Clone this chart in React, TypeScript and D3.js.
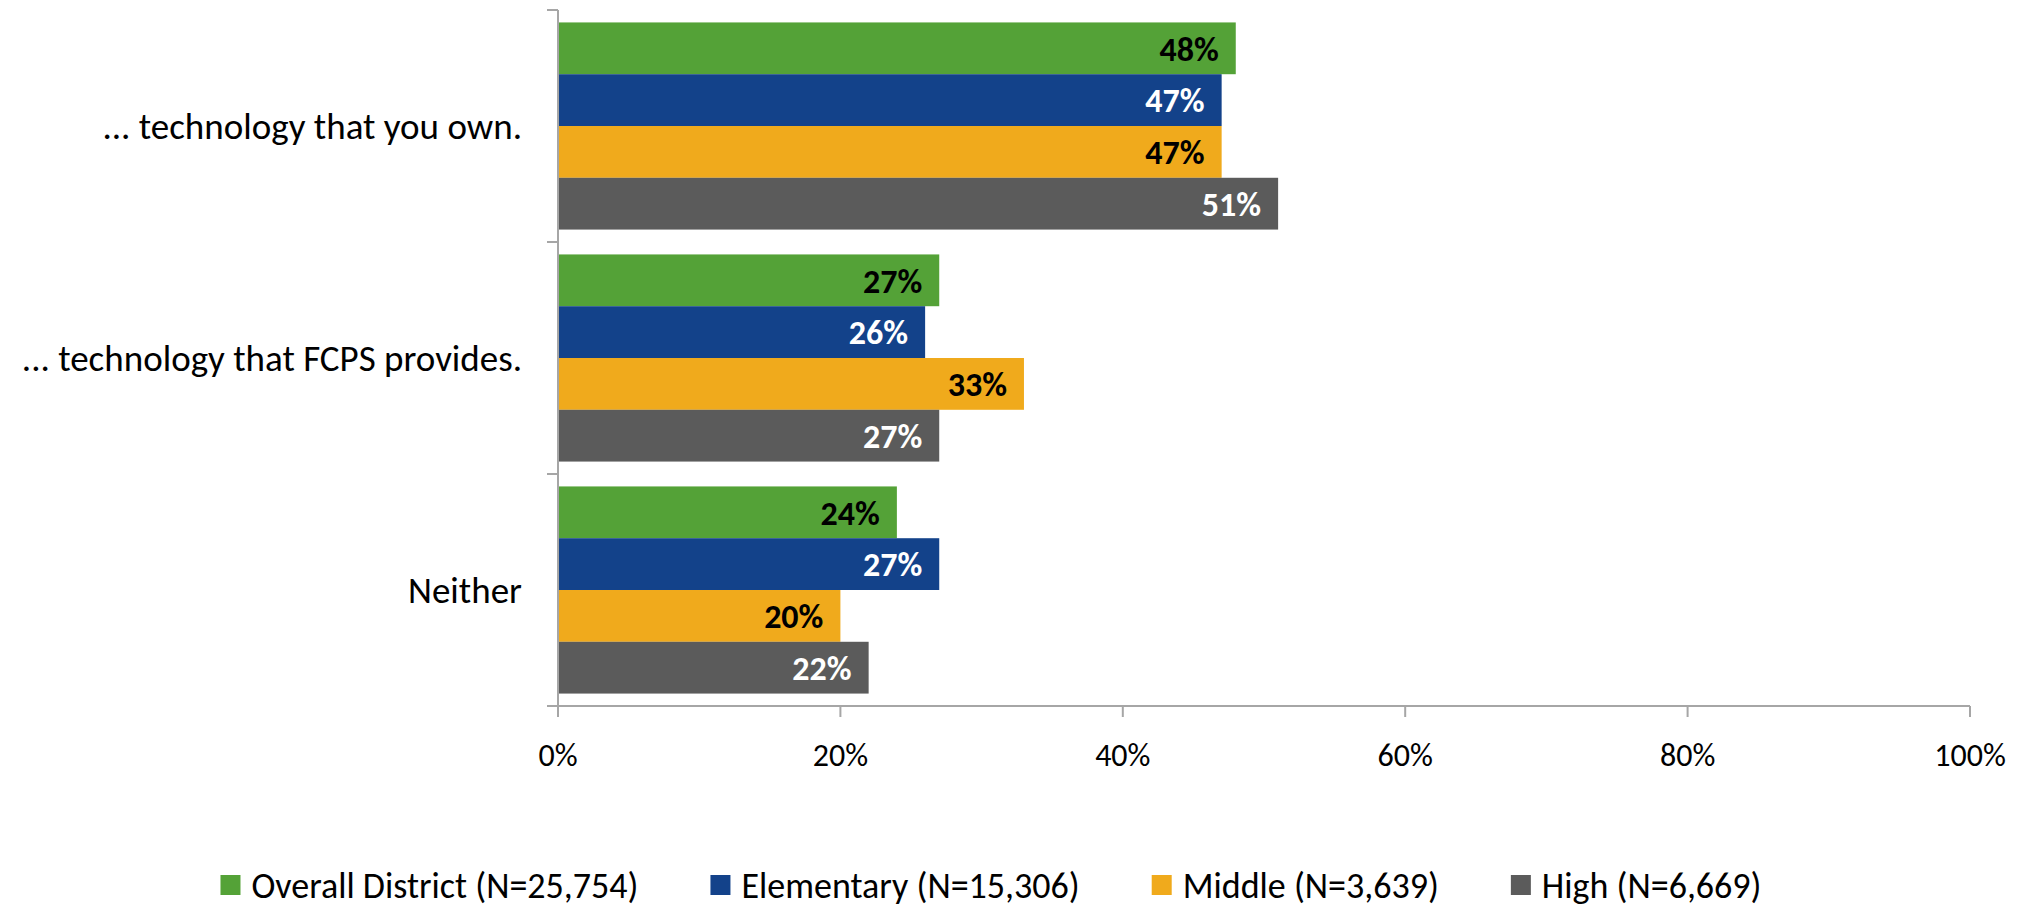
import React, { useEffect, useRef } from "react";
import * as d3 from "d3";

const categories = [
  "... technology that you own.",
  "... technology that FCPS provides.",
  "Neither",
];
const seriesNames = [
  "Overall District (N=25,754)",
  "Elementary (N=15,306)",
  "Middle (N=3,639)",
  "High (N=6,669)",
];
const overall = [48, 27, 24];
const elementary = [47, 26, 27];
const middle = [47, 33, 20];
const high = [51, 27, 22];
const xTicks = [0, 20, 40, 60, 80, 100];

const seriesValues = [overall, elementary, middle, high];
const colors = ["#54A237", "#13428A", "#F0AA1C", "#5B5B5B"];
const labelColors = ["#000000", "#FFFFFF", "#000000", "#FFFFFF"];

const W = 2030;
const H = 910;
const FONT = "Carlito, Calibri, Lato, sans-serif";

export default function App() {
  const ref = useRef<SVGSVGElement | null>(null);

  useEffect(() => {
    const svg = d3.select(ref.current);
    svg.selectAll("*").remove();

    const margin = { left: 558, right: 60, top: 10, bottom: 204 };
    const x = d3
      .scaleLinear()
      .domain([0, 100])
      .range([margin.left, W - margin.right]);
    const y = d3
      .scaleBand<number>()
      .domain(d3.range(categories.length))
      .range([margin.top, H - margin.bottom])
      .padding(0);
    const ys = d3
      .scaleBand<number>()
      .domain(d3.range(seriesNames.length))
      .range([0, y.bandwidth()])
      .paddingInner(0)
      .paddingOuter(0.24);

    const axisColor = "#A6A6A6";
    const plotBottom = H - margin.bottom;

    // bars
    const g = svg.append("g");
    categories.forEach((_, ci) => {
      seriesValues.forEach((vals, si) => {
        const v = vals[ci];
        const y0 = (y(ci) as number) + (ys(si) as number);
        g.append("rect")
          .attr("x", x(0))
          .attr("y", y0)
          .attr("width", x(v) - x(0))
          .attr("height", ys.bandwidth())
          .attr("fill", colors[si]);
        g.append("text")
          .attr("x", x(v) - 17)
          .attr("y", y0 + ys.bandwidth() / 2)
          .attr("dy", "0.36em")
          .attr("text-anchor", "end")
          .attr("font-family", FONT)
          .attr("font-weight", "bold")
          .attr("font-size", 34)
          .attr("fill", labelColors[si])
          .text(`${v}%`);
      });
    });

    // y axis
    svg
      .append("line")
      .attr("x1", x(0))
      .attr("x2", x(0))
      .attr("y1", margin.top)
      .attr("y2", plotBottom)
      .attr("stroke", axisColor)
      .attr("stroke-width", 2);
    const bounds = d3.range(categories.length + 1).map((i) =>
      i < categories.length ? (y(i) as number) : plotBottom
    );
    bounds.forEach((b) => {
      svg
        .append("line")
        .attr("x1", x(0) - 11)
        .attr("x2", x(0))
        .attr("y1", b)
        .attr("y2", b)
        .attr("stroke", axisColor)
        .attr("stroke-width", 2);
    });
    categories.forEach((c, ci) => {
      svg
        .append("text")
        .attr("x", x(0) - 36)
        .attr("y", (y(ci) as number) + y.bandwidth() / 2)
        .attr("dy", "0.36em")
        .attr("text-anchor", "end")
        .attr("font-family", FONT)
        .attr("font-size", 37)
        .attr("fill", "#000")
        .text(c);
    });

    // x axis
    svg
      .append("line")
      .attr("x1", x(0) - 11)
      .attr("x2", x(100))
      .attr("y1", plotBottom)
      .attr("y2", plotBottom)
      .attr("stroke", axisColor)
      .attr("stroke-width", 2);
    xTicks.forEach((t) => {
      svg
        .append("line")
        .attr("x1", x(t))
        .attr("x2", x(t))
        .attr("y1", plotBottom)
        .attr("y2", plotBottom + 11)
        .attr("stroke", axisColor)
        .attr("stroke-width", 2);
      svg
        .append("text")
        .attr("x", x(t))
        .attr("y", 754)
        .attr("dy", "0.36em")
        .attr("text-anchor", "middle")
        .attr("font-family", FONT)
        .attr("font-size", 32)
        .attr("fill", "#000")
        .text(`${t}%`);
    });

    // legend
    const legend = svg.append("g");
    const items = seriesNames.map((name, si) => {
      const it = legend.append("g");
      it.append("rect")
        .attr("x", 0)
        .attr("y", -10)
        .attr("width", 20)
        .attr("height", 20)
        .attr("fill", colors[si]);
      const tx = it
        .append("text")
        .attr("x", 31)
        .attr("y", 0)
        .attr("dy", "0.36em")
        .attr("font-family", FONT)
        .attr("font-size", 36)
        .attr("fill", "#000")
        .text(name);
      const w = 31 + (tx.node() as SVGTextElement).getComputedTextLength();
      return { it, w };
    });
    const gap = 72;
    const total = d3.sum(items, (d) => d.w) + gap * (items.length - 1);
    let cx = 991 - total / 2;
    items.forEach(({ it, w }) => {
      it.attr("transform", `translate(${cx},885)`);
      cx += w + gap;
    });
  }, []);

  return (
    <svg
      ref={ref}
      width={W}
      height={H}
      style={{ position: "fixed", left: 0, top: 0, background: "#fff" }}
    />
  );
}
